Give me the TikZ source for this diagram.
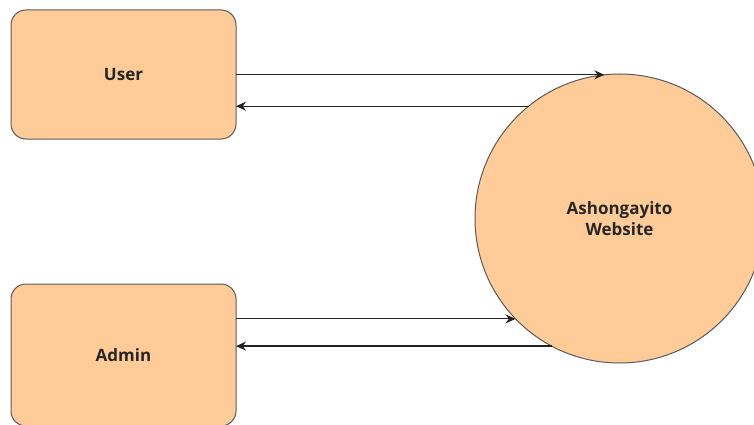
\documentclass[tikz,border=0pt]{standalone}
\usepackage{fontspec}
\setmainfont{Open Sans}
\usetikzlibrary{arrows.meta}
\definecolor{boxfill}{HTML}{FFCC99}
\definecolor{boxline}{HTML}{5A5A5A}
\definecolor{arrline}{HTML}{222222}
\tikzset{
  entity/.style={draw=boxline, fill=boxfill, line width=1pt, rounded corners=15pt,
    minimum width=225pt, inner sep=0pt, outer sep=0pt,
    font=\fontsize{17}{21}\selectfont\bfseries, text=black!85},
  proc/.style={draw=boxline, fill=boxfill, line width=1pt, circle, minimum size=289pt,
    inner sep=0pt, outer sep=0pt, align=center,
    font=\fontsize{17}{21}\selectfont\bfseries, text=black!85},
  flow/.style={draw=arrline, line width=1.2pt, -{Stealth[length=10pt,width=9pt]}}
}
\begin{document}
\begin{tikzpicture}[x=1pt,y=-1pt]
  \useasboundingbox (0,0) rectangle (754,425);
  \begin{scope}
    \clip (0,0) rectangle (754,425);
    \node[proc] (web) at (619.5,218.5) {Ashongayito\\Website};
    \node[entity, minimum height=129pt] (user) at (123.5,74.5) {User};
    \node[entity, minimum height=142pt] (admin) at (123.5,355) {Admin};
    \draw[flow] (web.96.8 -| user.east) -- (web.96.8);
    \draw[flow] (web.129.3) -- (web.129.3 -| user.east);
    \draw[flow] (web.224.3 -| admin.east) -- (web.224.3);
    \draw[flow] (web.242.8) -- (web.242.8 -| admin.east);
  \end{scope}
\end{tikzpicture}
\end{document}
